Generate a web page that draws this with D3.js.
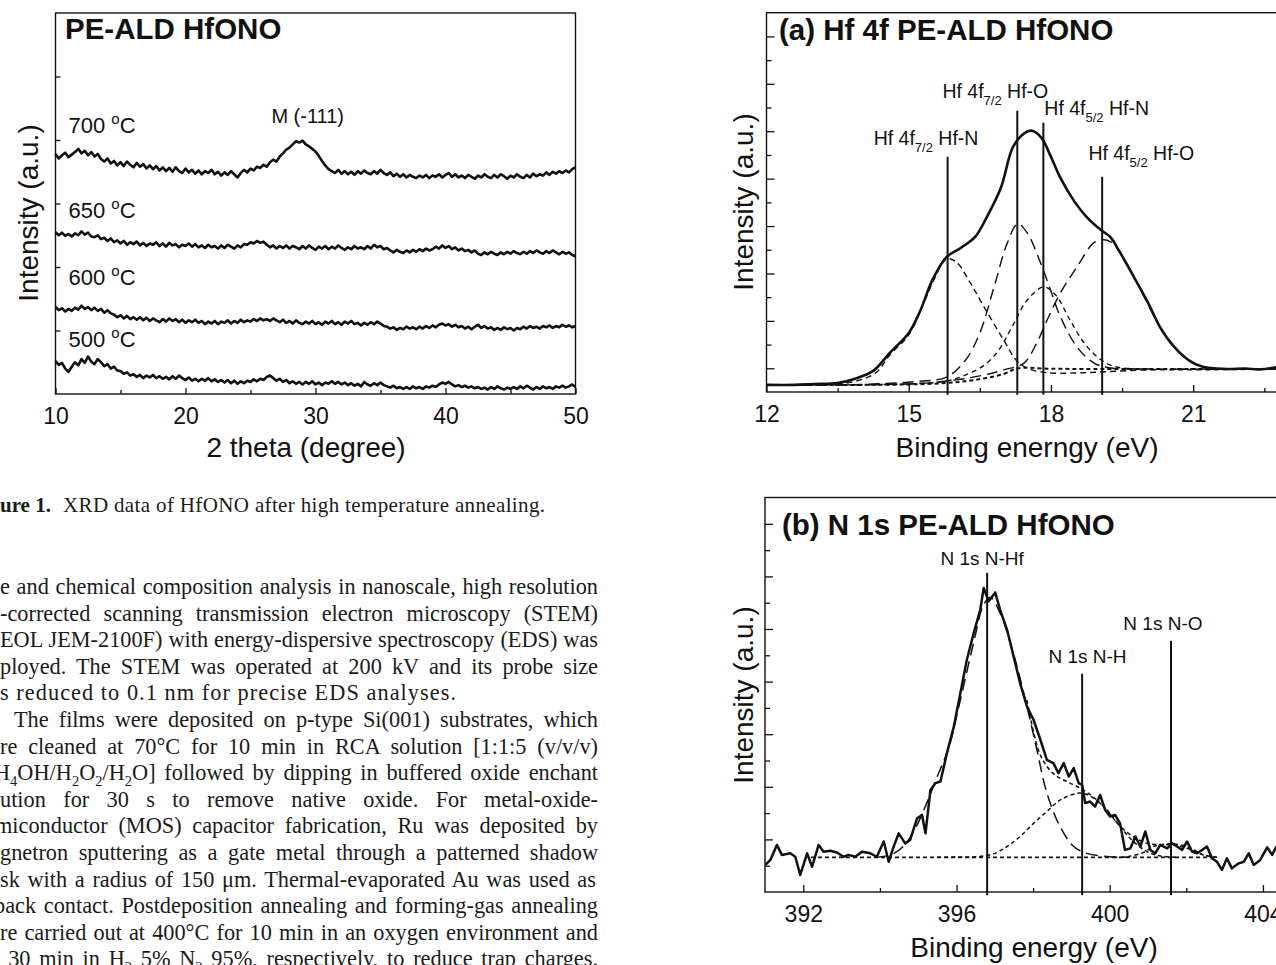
<!DOCTYPE html>
<html>
<head>
<meta charset="utf-8">
<script src="https://cdn.jsdelivr.net/npm/d3@7"></script>
<style>
  body { margin: 0; background: #fff; }
  svg { display: block; }
  .frame { fill: none; stroke: #111; stroke-width: 1.4; }
  .trace { fill: none; stroke: #111; stroke-linejoin: round; }
</style>
</head>
<body>
<div id="page"></div>
<script>
// ==============================
// Data
// ==============================

// Fig. 1 XRD: one value every 0.25 degree from 10 to 50 (intensity, a.u.)
var xrdStart = 10, xrdStep = 0.25;
var xrdTemps = ["700", "650", "600", "500"];
var xrd700 = [
  378,371,376,380, 373,377,381,386, 379,383,376,381, 374,378,370,366, 371,363,367,360,
  365,359,366,361, 357,364,358,362, 355,360,354,359, 352,357,351,356, 350,357,351,348,
  355,349,353,347, 352,346,351,348, 353,346,350,344, 349,345,351,346, 341,348,353,349,
  355,352,358,356, 361,358,365,369, 366,374,379,385, 388,393,398,396, 399,393,390,386,
  382,375,367,360, 354,351,348,353, 347,351,346,350, 345,351,347,352, 348,346,351,347,
  353,348,345,349, 343,347,342,346, 341,345,342,340, 344,341,345,340, 344,342,346,341,
  345,348,342,346, 341,344,340,345, 342,339,344,341, 346,342,340,345, 341,346,343,339,
  344,341,346,342, 340,345,341,347, 343,346,344,349, 345,350,347,351, 348,352,349,354,
  357];
var xrd650 = [
  255,250,254,249, 252,248,253,250, 256,251,254,248, 247,250,244,246, 241,245,239,242,
  237,241,235,239, 236,240,234,238, 233,237,235,239, 233,237,232,238, 234,236,231,235,
  233,237,232,236, 231,234,230,235, 231,233,229,234, 230,235,232,229, 234,231,236,235,
  239,237,241,238, 240,235,231,234, 229,233,230,234, 229,233,231,228, 233,229,234,230,
  227,232,229,233, 228,232,229,234, 230,227,231,228, 233,229,231,228, 233,229,235,231,
  233,228,230,226, 223,227,224,222, 226,223,227,224, 228,225,229,226, 228,232,229,234,
  230,233,228,231, 226,229,225,227, 223,226,221,219, 223,220,224,221, 219,223,220,224,
  221,225,222,220, 224,221,225,222, 226,223,221,225, 222,226,223,220, 224,221,223,219,
  217];
var xrd600 = [
  137,132,135,130, 134,131,136,133, 139,134,137,132, 136,131,134,128, 132,127,125,121,
  124,119,123,118, 121,117,121,116, 120,115,119,116, 113,118,114,119, 115,118,113,117,
  112,116,113,117, 112,115,110,114, 111,115,110,114, 112,116,111,115, 112,117,113,116,
  114,118,115,119, 116,118,115,119, 116,113,117,112, 115,111,116,112, 110,114,111,115,
  110,113,109,114, 111,115,110,113, 109,114,111,115, 110,112,108,112, 109,113,110,114,
  111,107,106,103, 105,101,104,102, 106,103,105,102, 106,103,107,104, 108,105,109,111,
  108,110,106,109, 105,107,103,106, 102,106,109,104, 107,103,105,101, 104,101,105,102,
  104,100,104,102, 106,103,107,104, 106,103,107,105, 108,104,107,105, 109,106,108,105,
  107];
var xrd500 = [
  52,46,49,40, 35,43,50,45, 55,49,59,51, 47,55,50,44, 47,40,43,37,
  36,32,34,29, 31,27,30,25, 29,26,30,25, 28,24,27,23, 28,24,29,25,
  22,26,21,24, 20,24,21,25, 20,23,19,22, 18,22,17,21, 16,20,17,21,
  19,23,20,24, 22,27,29,25, 21,24,19,22, 17,20,16,19, 15,19,16,20,
  15,18,14,18, 16,20,16,19, 15,18,14,17, 13,16,12,19, 15,13,17,14,
  18,14,12,10, 13,9,11,8, 11,8,12,9, 11,8,12,10, 13,11,15,18,
  16,19,15,12, 14,11,13,10, 12,9,11,8, 10,7,11,8, 12,9,7,10,
  8,11,8,12, 9,13,10,7, 11,8,12,9, 11,8,12,10, 13,10,12,15,
  11];
var xrdTicks = [10, 20, 30, 40, 50];
var xrdMinorTicks = [15, 25, 35, 45];
var xrdYTicks = [100, 200, 300, 400, 500];

// Fig. 2(a) Hf 4f XPS: [binding energy (eV), intensity (a.u.)]
var hfEnvelope = [[12.0,0.30],[12.6,0.30],[13.0,0.34],[13.5,0.38],[13.85,0.55],[14.25,0.89],[14.6,1.65],
  [15.0,2.49],[15.25,3.46],[15.5,4.73],[15.8,5.70],[16.1,6.08],[16.4,6.54],[16.65,7.39],[16.95,8.65],
  [17.2,10.34],[17.45,10.93],[17.6,11.02],[17.8,10.72],[18.0,9.92],[18.2,9.03],[18.5,8.02],[18.75,7.39],
  [19.05,6.84],[19.25,6.54],[19.45,5.91],[19.75,4.85],[20.05,3.76],[20.3,2.74],[20.6,1.90],[20.9,1.35],
  [21.2,1.06],[21.7,0.97],[22.1,0.99],[22.4,0.95],[22.8,1.06]];
var hfN72 = [[12,0.30],[13,0.30],[13.8,0.42],[14.3,0.80],[14.6,1.56],[15.0,2.41],[15.3,3.67],[15.5,4.60],
  [15.8,5.61],[16.0,5.49],[16.3,4.60],[16.6,3.55],[17.0,2.20],[17.3,1.27],[17.6,0.93],[18.0,0.80],
  [18.5,0.80],[19.0,0.84],[20.0,0.93],[21.0,0.97],[22.8,0.97]];
var hfO72 = [[12,0.30],[14,0.32],[15.2,0.45],[15.8,0.63],[16.2,1.35],[16.5,2.49],[16.8,4.43],[17.08,6.29],
  [17.3,7.09],[17.5,6.71],[17.78,5.45],[17.99,4.31],[18.2,3.17],[18.55,1.90],[18.91,1.22],[19.26,1.01],
  [20,0.97],[22.8,0.97]];
var hfN52 = [[12,0.30],[15.0,0.34],[15.8,0.46],[16.2,0.72],[16.6,1.14],[16.9,1.77],[17.2,2.83],[17.5,3.88],
  [17.85,4.43],[18.1,4.09],[18.4,3.04],[18.7,2.07],[19.0,1.44],[19.3,1.10],[19.8,0.97],[22.8,0.97]];
var hfO52 = [[12,0.30],[15.0,0.34],[16.0,0.51],[16.6,0.72],[17.0,0.93],[17.43,1.22],[17.7,2.07],[17.92,3.04],
  [18.2,4.18],[18.55,5.28],[18.9,6.29],[19.1,6.42],[19.26,6.33],[19.47,5.87],[19.75,4.85],[20.03,3.76],
  [20.3,2.74],[20.6,1.90],[20.88,1.35],[21.2,1.06],[21.7,0.97],[22.8,0.97]];
var hfBackground = [[12,0.30],[14,0.30],[15,0.32],[15.8,0.38],[16.4,0.51],[17.0,0.76],[17.3,1.0],
  [18,0.98],[20,0.97],[22.8,0.97]];
var hfMarkers = [15.82, 17.29, 17.84, 19.08];
var hfMarkerTops = [9.92, 11.86, 11.36, 9.08];
var hfLabels = ["Hf 4f_{7/2} Hf-N", "Hf 4f_{7/2} Hf-O", "Hf 4f_{5/2} Hf-N", "Hf 4f_{5/2} Hf-O"];
var hfTicks = [12, 15, 18, 21];
var hfMinorTicks = [13.5, 16.5, 19.5, 22.5];

// Fig. 2(b) N 1s XPS
var n1sData = [[391.01,1.03],[391.14,1.22],[391.31,1.79],[391.44,1.41],[391.66,1.47],[391.79,1.34],[391.92,0.65],
  [392.10,1.47],[392.23,0.96],[392.40,1.79],[392.53,1.53],[392.70,1.57],[392.88,1.50],[393.05,1.34],[393.18,1.41],
  [393.36,1.34],[393.53,1.53],[393.75,1.47],[393.92,1.34],[394.10,1.92],[394.23,1.15],[394.36,1.73],[394.49,2.23],
  [394.66,1.85],[394.79,1.98],[394.97,2.80],[395.10,2.93],[395.19,2.23],[395.32,3.88],[395.45,4.14],[395.58,4.20],
  [395.75,5.28],[395.93,6.29],[396.10,7.56],[396.27,8.83],[396.45,9.85],[396.62,10.73],[396.71,11.56],[396.84,11.05],
  [397.01,11.39],[397.14,10.73],[397.32,9.97],[397.49,8.96],[397.66,7.94],[397.84,7.05],[398.01,6.55],[398.19,5.79],
  [398.36,5.02],[398.53,4.90],[398.66,4.52],[398.80,4.90],[398.93,4.39],[399.06,4.71],[399.19,4.14],[399.28,4.07],
  [399.36,3.38],[399.49,3.44],[399.62,3.25],[399.75,3.69],[399.88,3.12],[400.01,2.87],[400.14,2.93],[400.27,2.61],
  [400.40,1.60],[400.54,1.66],[400.67,2.11],[400.80,1.73],[400.93,2.30],[401.06,1.60],[401.19,1.47],[401.32,1.79],
  [401.50,1.66],[401.63,1.85],[401.76,1.73],[401.89,1.60],[402.02,1.92],[402.15,1.54],[402.28,1.47],[402.41,1.60],
  [402.54,1.73],[402.67,1.28],[402.80,1.15],[402.93,0.84],[403.06,1.28],[403.19,0.90],[403.37,1.09],[403.50,1.15],
  [403.63,1.47],[403.76,1.03],[403.93,1.22],[404.11,1.70],[404.24,1.41],[404.35,1.73]];
var nHf = [[393.9,1.32],[394.3,1.42],[394.6,1.72],[394.9,2.35],[395.2,3.3],[395.5,4.4],[395.8,5.5],[396.1,7.3],
  [396.45,9.5],[396.7,10.9],[396.88,11.2],[397.14,10.6],[397.5,9.0],[397.84,7.05],[398.1,5.4],[398.36,3.76],
  [398.7,2.5],[399.06,1.73],[399.4,1.47],[400.0,1.34],[400.5,1.32]];
var nH = [[395.5,1.32],[396.0,1.33],[396.5,1.34],[396.97,1.45],[397.32,1.73],[397.66,2.11],[398.01,2.61],
  [398.36,3.06],[398.71,3.50],[399.23,3.76],[399.58,3.57],[399.93,3.12],[400.27,2.49],[400.62,1.92],
  [400.97,1.54],[401.32,1.37],[401.8,1.32]];
var nO = [[400.1,1.32],[400.45,1.34],[400.88,1.50],[401.14,1.73],[401.58,1.83],[402.02,1.73],[402.45,1.41],[402.8,1.32]];
var nFit = [[397.84,7.3],[398.19,5.2],[398.53,4.5],[398.88,4.2],[399.23,3.95],[399.58,3.6],[399.93,3.1],
  [400.27,2.5],[400.62,2.1],[400.97,1.85],[401.32,1.8],[401.67,1.79],[402.02,1.66],[402.45,1.41],[402.8,1.32]];
var nBaseline = [[392.2,1.32],[402.8,1.32]];
var nMarkers = [396.8, 399.28, 401.6];
var nMarkerTops = [12.14, 8.30, 9.55];
var nLabels = ["N 1s N-Hf", "N 1s N-H", "N 1s N-O"];
var nTicks = [392, 396, 400, 404];
var nMinorTicks = [394, 398, 402];

// Page text
var captionBold = "ure 1.";
var captionText = "XRD data of HfONO after high temperature annealing.";
var bodyLines = [
  "e and chemical composition analysis in nanoscale, high resolution",
  "-corrected scanning transmission electron microscopy (STEM)",
  "EOL JEM-2100F) with energy-dispersive spectroscopy (EDS) was",
  "ployed. The STEM was operated at 200 kV and its probe size",
  "s reduced to 0.1 nm for precise EDS analyses.",
  "The films were deposited on p-type Si(001) substrates, which",
  "re cleaned at 70\u00b0C for 10 min in RCA solution [1:1:5 (v/v/v)",
  "H_{4}OH/H_{2}O_{2}/H_{2}O] followed by dipping in buffered oxide enchant",
  "ution for 30 s to remove native oxide. For metal-oxide-",
  "miconductor (MOS) capacitor fabrication, Ru was deposited by",
  "gnetron sputtering as a gate metal through a patterned shadow",
  "sk with a radius of 150  \u03bcm. Thermal-evaporated Au was used as",
  "back contact. Postdeposition annealing and forming-gas annealing",
  "re carried out at 400\u00b0C for 10 min in an oxygen environment and",
  "r 30 min in H_{2} 5% N_{2} 95%, respectively, to reduce trap charges."
];

// ==============================
// Setup
// ==============================
var sans = "'Liberation Sans', Arial, Helvetica, sans-serif";
var serif = "'Liberation Serif', 'Times New Roman', serif";
var ink = "#111";

var svg = d3.select("#page").append("svg")
  .attr("width", 1276)
  .attr("height", 965);

// text with _{sub} and ^{sup} pieces
function addRich(sel, str, small, subOff, supOff) {
  var parts = str.split(/([_^])\{([^}]*)\}/);
  var shift = 0;
  for (var i = 0; i < parts.length; i += 3) {
    if (parts[i]) {
      var t = sel.append("tspan").text(parts[i]);
      if (shift) { t.attr("dy", -shift); shift = 0; }
    }
    if (i + 2 < parts.length) {
      var want = parts[i + 1] === "_" ? subOff : supOff;
      sel.append("tspan").text(parts[i + 2]).attr("font-size", small).attr("dy", want - shift);
      shift = want;
    }
  }
}

function styleAxis(g, size) {
  g.attr("font-family", sans).attr("font-size", size).attr("color", ink);
  g.select(".domain").remove();
  g.selectAll(".tick line").attr("stroke-width", 1.3);
}

function drawLine(g, data, x, y, width, dash, curve) {
  var line = d3.line().x(d => x(d[0])).y(d => y(d[1])).curve(curve || d3.curveLinear);
  return g.append("path")
    .datum(data)
    .attr("class", "trace")
    .attr("stroke-width", width)
    .attr("stroke-dasharray", dash || null)
    .attr("d", line);
}

function yLabel(g, x, y, text) {
  g.append("text")
    .attr("transform", `translate(${x},${y}) rotate(-90)`)
    .attr("text-anchor", "middle")
    .attr("font-family", sans).attr("font-size", 28).attr("fill", ink)
    .text(text);
}

function xLabel(g, x, y, text) {
  g.append("text")
    .attr("x", x).attr("y", y)
    .attr("text-anchor", "middle")
    .attr("font-family", sans).attr("font-size", 28).attr("fill", ink)
    .text(text);
}

// ==============================
// Figure 1: XRD
// ==============================
(function () {
  var x = d3.scaleLinear().domain([10, 50]).range([55.5, 575.5]);
  var y = d3.scaleLinear().domain([0, 600]).range([394, 13]);
  var g = svg.append("g");

  g.append("rect").attr("class", "frame")
    .attr("x", x(10)).attr("y", y(600))
    .attr("width", x(50) - x(10)).attr("height", y(0) - y(600));

  g.append("g").attr("transform", `translate(0,${y(0)})`)
    .call(d3.axisBottom(x).tickValues(xrdTicks).tickSize(-6).tickPadding(14))
    .call(a => styleAxis(a, 23));
  g.append("g").attr("transform", `translate(0,${y(0)})`)
    .call(d3.axisBottom(x).tickValues(xrdMinorTicks).tickSize(-4).tickFormat(""))
    .call(a => styleAxis(a, 23));
  g.append("g").attr("transform", `translate(${x(10)},0)`)
    .call(d3.axisLeft(y).tickValues(xrdYTicks).tickSize(-5).tickFormat(""))
    .call(a => styleAxis(a, 23));

  var series = [xrd700, xrd650, xrd600, xrd500];
  series.forEach(function (vals) {
    var pts = vals.map((v, i) => [xrdStart + i * xrdStep, v]);
    drawLine(g, pts, x, y, 2.6);
  });

  // temperature labels sit just above their traces
  var labelVals = [411, 277, 172, 74];
  xrdTemps.forEach(function (t, i) {
    var txt = g.append("text")
      .attr("x", x(11)).attr("y", y(labelVals[i]))
      .attr("font-family", sans).attr("font-size", 22).attr("fill", ink);
    addRich(txt, t + " ^{o}C", 15, 6, -9);
  });

  g.append("text")
    .attr("x", x(29.4)).attr("y", y(427))
    .attr("text-anchor", "middle")
    .attr("font-family", sans).attr("font-size", 20).attr("fill", ink)
    .text("M (-111)");

  g.append("text")
    .attr("x", 65).attr("y", 39)
    .attr("font-family", sans).attr("font-size", 29.5).attr("font-weight", "bold").attr("fill", ink)
    .text("PE-ALD HfONO");

  yLabel(g, 38, 213, "Intensity (a.u.)");
  xLabel(g, 306, 457, "2 theta (degree)");
})();

// ==============================
// Figure 2(a): Hf 4f
// ==============================
(function () {
  var x = d3.scaleLinear().domain([12, 23]).range([766.5, 1288]);
  var y = d3.scaleLinear().domain([0, 16]).range([392, 12.7]);
  var g = svg.append("g");

  g.append("rect").attr("class", "frame")
    .attr("x", x(12)).attr("y", y(16))
    .attr("width", x(23) - x(12)).attr("height", y(0) - y(16));

  g.append("g").attr("transform", `translate(0,${y(0)})`)
    .call(d3.axisBottom(x).tickValues(hfTicks).tickSize(-7).tickPadding(14))
    .call(a => styleAxis(a, 23));
  g.append("g").attr("transform", `translate(0,${y(0)})`)
    .call(d3.axisBottom(x).tickValues(hfMinorTicks).tickSize(-4).tickFormat(""))
    .call(a => styleAxis(a, 23));
  g.append("g").attr("transform", `translate(${x(12)},0)`)
    .call(d3.axisLeft(y).tickValues(d3.range(1, 16, 2)).tickSize(-8).tickFormat(""))
    .call(a => styleAxis(a, 23));
  g.append("g").attr("transform", `translate(${x(12)},0)`)
    .call(d3.axisLeft(y).tickValues(d3.range(2, 16, 2)).tickSize(-5).tickFormat(""))
    .call(a => styleAxis(a, 23));

  var smooth = d3.curveCatmullRom;
  drawLine(g, hfBackground, x, y, 2, "4,3", smooth);
  drawLine(g, hfN72, x, y, 1.4, "6,4", smooth);
  drawLine(g, hfO72, x, y, 1.4, "11,6", smooth);
  drawLine(g, hfN52, x, y, 1.4, "5,4", smooth);
  drawLine(g, hfO52, x, y, 1.4, "11,6", smooth);
  drawLine(g, hfEnvelope, x, y, 2.6, null, smooth);

  g.selectAll(".marker").data(hfMarkers).enter().append("line")
    .attr("x1", d => x(d)).attr("x2", d => x(d))
    .attr("y1", (d, i) => y(hfMarkerTops[i])).attr("y2", y(-0.12))
    .attr("stroke", ink).attr("stroke-width", 2);

  var labelPos = [[14.26, 10.43], [15.71, 12.41], [17.86, 11.69], [18.79, 9.79]];
  hfLabels.forEach(function (t, i) {
    var txt = g.append("text")
      .attr("x", x(labelPos[i][0])).attr("y", y(labelPos[i][1]))
      .attr("font-family", sans).attr("font-size", 19.5).attr("fill", ink);
    addRich(txt, t, 13, 7, -8);
  });

  g.append("text")
    .attr("x", 779).attr("y", 40)
    .attr("font-family", sans).attr("font-size", 29.5).attr("font-weight", "bold").attr("fill", ink)
    .text("(a) Hf 4f PE-ALD HfONO");

  yLabel(g, 753, 202, "Intensity (a.u.)");
  xLabel(g, 1027, 457, "Binding enerngy (eV)");
})();

// ==============================
// Figure 2(b): N 1s
// ==============================
(function () {
  var x = d3.scaleLinear().domain([391, 404.6]).range([765, 1285.9]);
  var y = d3.scaleLinear().domain([0, 15]).range([892, 497.5]);
  var g = svg.append("g");

  g.append("rect").attr("class", "frame")
    .attr("x", x(391)).attr("y", y(15))
    .attr("width", x(404.6) - x(391)).attr("height", y(0) - y(15));

  g.append("g").attr("transform", `translate(0,${y(0)})`)
    .call(d3.axisBottom(x).tickValues(nTicks).tickSize(-7).tickPadding(14))
    .call(a => styleAxis(a, 23));
  g.append("g").attr("transform", `translate(0,${y(0)})`)
    .call(d3.axisBottom(x).tickValues(nMinorTicks).tickSize(-4).tickFormat(""))
    .call(a => styleAxis(a, 23));
  g.append("g").attr("transform", `translate(${x(391)},0)`)
    .call(d3.axisLeft(y).tickValues(d3.range(2, 15, 2)).tickSize(-8).tickFormat(""))
    .call(a => styleAxis(a, 23));
  g.append("g").attr("transform", `translate(${x(391)},0)`)
    .call(d3.axisLeft(y).tickValues(d3.range(1, 15, 2)).tickSize(-5).tickFormat(""))
    .call(a => styleAxis(a, 23));

  var smooth = d3.curveCatmullRom;
  drawLine(g, nBaseline, x, y, 1.8, "4,3");
  drawLine(g, nHf, x, y, 1.5, "12,6", smooth);
  drawLine(g, nH, x, y, 1.5, "4,3", smooth);
  drawLine(g, nO, x, y, 1.5, "4,3", smooth);
  drawLine(g, nFit, x, y, 1.5, "4,3", smooth);
  drawLine(g, n1sData, x, y, 2.5);

  g.selectAll(".marker").data(nMarkers).enter().append("line")
    .attr("x1", d => x(d)).attr("x2", d => x(d))
    .attr("y1", (d, i) => y(nMarkerTops[i])).attr("y2", y(-0.12))
    .attr("stroke", ink).attr("stroke-width", 2);

  var labelPos = [[396.67, 12.45], [399.42, 8.72], [401.39, 9.97]];
  nLabels.forEach(function (t, i) {
    g.append("text")
      .attr("x", x(labelPos[i][0])).attr("y", y(labelPos[i][1]))
      .attr("text-anchor", "middle")
      .attr("font-family", sans).attr("font-size", 19).attr("fill", ink)
      .text(t);
  });

  g.append("text")
    .attr("x", 782).attr("y", 535)
    .attr("font-family", sans).attr("font-size", 29.5).attr("font-weight", "bold").attr("fill", ink)
    .text("(b) N 1s PE-ALD HfONO");

  yLabel(g, 753, 695, "Intensity (a.u.)");
  xLabel(g, 1034, 957, "Binding energy (eV)");
})();

// ==============================
// Caption and body text (left column)
// ==============================
(function () {
  var g = svg.append("g").attr("font-family", serif).attr("fill", "#1a1a1a");

  g.append("text").attr("x", 0).attr("y", 512)
    .attr("font-size", 21).attr("font-weight", "bold")
    .text(captionBold);
  g.append("text").attr("x", 63).attr("y", 512)
    .attr("font-size", 21)
    .attr("textLength", 482).attr("lengthAdjust", "spacing")
    .text(captionText);

  var colRight = 598, firstBase = 594, lead = 26.6;
  var starts = { 5: 14, 7: -6, 9: -5, 12: -6, 14: -8 };
  bodyLines.forEach(function (s, i) {
    var x0 = starts[i] || 0;
    var t = g.append("text")
      .attr("x", x0).attr("y", firstBase + i * lead)
      .attr("font-size", 22.3);
    addRich(t, s, 14.5, 6, -8);
    if (i === 4) {
      // last line of the paragraph: set width, not justified by spaces
      t.attr("textLength", 456).attr("lengthAdjust", "spacing");
      return;
    }
    var spaces = (s.match(/ /g) || []).length;
    var natural = t.node().getComputedTextLength();
    var extra = (colRight - x0) - natural;
    if (spaces > 0) t.style("word-spacing", (extra / spaces) + "px");
  });
})();
</script>
</body>
</html>
